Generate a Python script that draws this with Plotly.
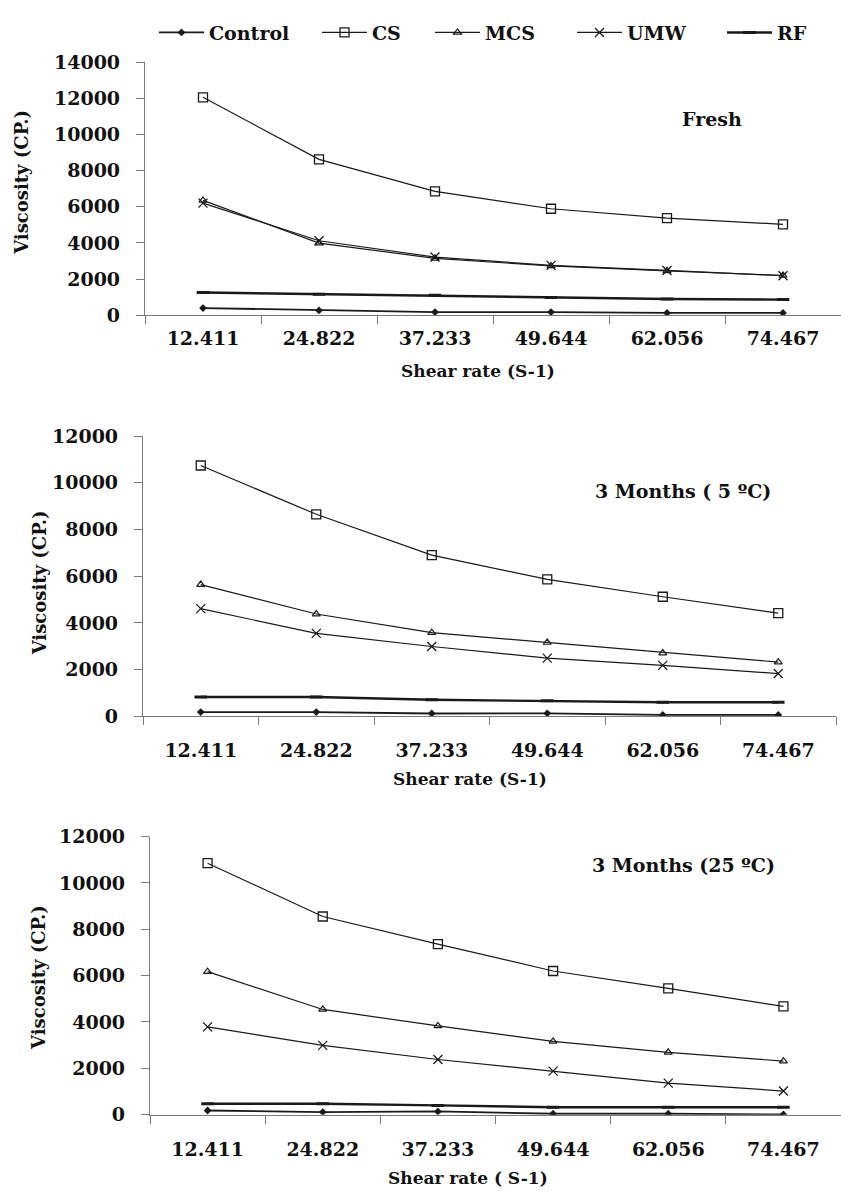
import plotly.graph_objects as go

W, H = 841, 1199

categories = ["12.411", "24.822", "37.233", "49.644", "62.056", "74.467"]
series_names = ["Control", "CS", "MCS", "UMW", "RF"]

# Fresh
fresh_control = [400, 270, 180, 180, 130, 130]
fresh_cs = [12050, 8620, 6850, 5890, 5370, 5030]
fresh_mcs = [6350, 3990, 3150, 2730, 2460, 2200]
fresh_umw = [6200, 4120, 3220, 2760, 2480, 2190]
fresh_rf = [1260, 1170, 1110, 980, 900, 870]

# 3 Months (5 C)
m5_control = [180, 180, 120, 130, 60, 60]
m5_cs = [10740, 8650, 6900, 5860, 5120, 4420]
m5_mcs = [5640, 4380, 3580, 3160, 2710, 2320]
m5_umw = [4610, 3550, 2990, 2490, 2180, 1830]
m5_rf = [830, 830, 710, 670, 600, 600]

# 3 Months (25 C)
m25_control = [180, 110, 140, 40, 40, 10]
m25_cs = [10850, 8550, 7360, 6200, 5450, 4670]
m25_mcs = [6170, 4540, 3830, 3160, 2690, 2310]
m25_umw = [3790, 2990, 2380, 1880, 1360, 1020]
m25_rf = [470, 470, 400, 320, 320, 320]

panel_labels = ["Fresh", "3 Months ( 5 \u00baC)", "3 Months (25 \u00baC)"]
x_titles = ["Shear rate (S-1)", "Shear rate (S-1)", "Shear rate ( S-1)"]
y_title = "Viscosity (CP.)"

panels = [
    [fresh_control, fresh_cs, fresh_mcs, fresh_umw, fresh_rf],
    [m5_control, m5_cs, m5_mcs, m5_umw, m5_rf],
    [m25_control, m25_cs, m25_mcs, m25_umw, m25_rf],
]


def px(x):
    return x / W


def py(y):
    return 1 - y / H


FONT = "DejaVu Serif"
INK = "#1a1a1a"
TXT = "#111111"

styles = {
    "Control": dict(symbol="diamond", size=6, color=INK, lw=1.8, mlw=0, mcolor=INK),
    "CS": dict(symbol="square-open", size=9, color=INK, lw=1.2, mlw=1.3, mcolor=INK),
    "MCS": dict(symbol="triangle-up-open", size=7, color=INK, lw=1.2, mlw=1.2, mcolor=INK),
    "UMW": dict(symbol="x-thin-open", size=9, color=INK, lw=1.2, mlw=1.3, mcolor=INK),
    "RF": dict(symbol="line-ew-open", size=9, color=INK, lw=2.4, mlw=3, mcolor=INK),
}

fig = go.Figure()

legend_ids = ["legend", "legend2", "legend3", "legend4", "legend5"]

for p, data in enumerate(panels):
    xa = "x" if p == 0 else f"x{p+1}"
    ya = "y" if p == 0 else f"y{p+1}"
    for i, name in enumerate(series_names):
        s = styles[name]
        fig.add_trace(go.Scatter(
            x=categories, y=data[i], name=name, mode="lines+markers",
            xaxis=xa, yaxis=ya,
            line=dict(color=s["color"], width=s["lw"]),
            marker=dict(symbol=s["symbol"], size=s["size"], color=s["mcolor"],
                        line=dict(color=s["mcolor"], width=s["mlw"])),
            showlegend=(p == 0),
            legend=legend_ids[i],
        ))

# pixel layout of panels: (x_left, x_right, y_top, y_bottom, ymax, tick standoff)
geo = [
    (145, 844, 52, 310, 14000, 6),
    (143, 836, 433, 718.5, 12000, 17),
    (150, 845, 841, 1124.3, 12000, 17),
]

tickfont = dict(family=FONT, size=19, color=TXT, weight="bold")
for p, (xl, xr, yt, yb, ymax, stand) in enumerate(geo):
    sfx = "" if p == 0 else str(p + 1)
    fig.layout["xaxis" + sfx] = dict(
        type="category", domain=[px(xl), min(1.0, px(xr))],
        range=[-0.5, 5.5], anchor="y" + sfx,
        showline=True, linecolor="#7a7a7a", linewidth=1.2,
        ticks="outside", tickson="boundaries", ticklen=8, tickcolor="#7a7a7a",
        showgrid=False, zeroline=False, tickfont=tickfont,
        ticklabelstandoff=stand,
    )
    fig.layout["yaxis" + sfx] = dict(
        domain=[py(yb), py(yt)], range=[0, ymax], dtick=2000,
        anchor="x" + sfx, showline=True, linecolor="#7a7a7a", linewidth=1.2,
        ticks="outside", ticklen=8, tickcolor="#7a7a7a",
        showgrid=False, zeroline=False, tickfont=tickfont,
        ticklabelstandoff=12, tickformat="d",
    )

annotations = []
# panel labels
label_pos = [(712, 110), (683, 489), (683, 870)]
for (x, y), t in zip(label_pos, panel_labels):
    annotations.append(dict(text=f"<b>{t}</b>", x=px(x), y=py(y), xref="paper", yref="paper",
                            showarrow=False, xanchor="center", yanchor="middle",
                            font=dict(family=FONT, size=19, color=TXT)))
# x titles
xt_pos = [(478, 367), (470, 782), (468, 1189)]
for (x, y), t in zip(xt_pos, x_titles):
    annotations.append(dict(text=f"<b>{t}</b>", x=px(x), y=py(y), xref="paper", yref="paper",
                            showarrow=False, xanchor="center", yanchor="middle",
                            font=dict(family=FONT, size=17, color=TXT)))
# y titles
yt_pos = [(22, 175), (39, 583), (39, 985)]
for (x, y) in yt_pos:
    annotations.append(dict(text=f"<b>{y_title}</b>", x=px(x), y=py(y), xref="paper", yref="paper",
                            showarrow=False, xanchor="center", yanchor="middle", textangle=-90,
                            font=dict(family=FONT, size=18, color=TXT)))

layout_legends = {}
text_starts = [212, 375, 488, 630, 780]
for lid, ts in zip(legend_ids, text_starts):
    layout_legends[lid] = dict(
        x=px(ts - 58), y=py(22), xanchor="left", yanchor="middle",
        orientation="h", bgcolor="rgba(0,0,0,0)", borderwidth=0,
        itemwidth=45, font=dict(family=FONT, size=19, color=TXT, weight="bold"),
    )

fig.update_layout(
    width=W, height=H,
    margin=dict(l=0, r=0, t=0, b=0),
    paper_bgcolor="white", plot_bgcolor="white",
    annotations=annotations,
    **layout_legends,
)

fig.write_html("out.html", config={"displayModeBar": False},
               post_script="document.body.style.margin='0';")
